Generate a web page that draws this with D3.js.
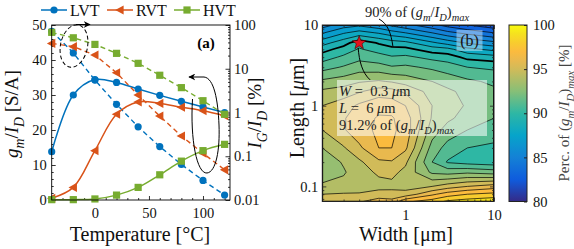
<!DOCTYPE html>
<html>
<head>
<meta charset="utf-8">
<script src="https://cdn.jsdelivr.net/npm/d3@7"></script>
<style>
  body { margin: 0; background: #fff; }
  svg { font-family: "Liberation Serif", "DejaVu Serif", serif; }
</style>
</head>
<body>
<div id="chart"></div>
<script>
// ---- panel (a) data ----
const temps = [-40, -20, 0, 20, 40, 60, 80, 100, 120];
const gmLVT = [13.8, 30.0, 34.4, 33.6, 31.7, 29.9, 28.2, 26.6, 25.0];
const gmRVT = [0.5, 3.6, 14.1, 24.5, 28.0, 27.6, 26.5, 25.5, 24.1];
const gmHVT = [0.1, 0.1, 0.3, 1.4, 3.6, 7.2, 11.1, 14.1, 15.9];
const igLVT = [72, 23, 5.5, 1.54, 0.47, 0.166, 0.065, 0.028, 0.013];
const igRVT = [38, 32, 20.6, 8.1, 2.5, 0.83, 0.29, 0.117, 0.049];
const igHVT = [68, 51, 36, 22.5, 13.3, 7.1, 3.7, 1.86, 0.91];
const tempTicks = [0, 50, 100];
const gmTicks = [0, 10, 20, 30, 40, 50];
const igTicks = [0.01, 0.1, 1, 10, 100];

// ---- panel (b) data ----
const widths = [0.115, 0.2, 0.3, 0.5, 0.7, 1, 2, 3, 5, 10];
const lengths = [10, 8, 6, 5, 4, 3, 2, 1.5, 1, 0.7, 0.5, 0.3, 0.2, 0.15, 0.1, 0.08, 0.065];
// rows = lengths (top to bottom), columns = widths
const perc = [
  [85.5, 86.5, 86.8, 86.3, 85.8, 85.3, 84.3, 83.6, 83.0, 82.3],
  [86.9, 87.9, 88.4, 87.9, 87.4, 87.0, 86.0, 85.3, 84.7, 84.0],
  [88.6, 89.6, 90.6, 89.9, 89.5, 89.3, 88.2, 87.6, 86.9, 86.3],
  [89.6, 90.4, 91.1, 90.6, 90.3, 90.3, 89.5, 89.3, 88.3, 87.7],
  [90.5, 91.2, 91.7, 91.4, 91.1, 91.2, 90.7, 90.5, 89.7, 89.4],
  [91.6, 92.1, 92.5, 92.4, 92.1, 92.2, 91.8, 91.5, 91.0, 90.8],
  [93.2, 93.5, 93.9, 94.1, 93.9, 93.6, 93.0, 92.6, 92.2, 91.8],
  [94.2, 94.5, 94.9, 95.5, 95.4, 94.8, 93.6, 93.2, 92.7, 92.2],
  [95.0, 95.5, 96.2, 96.7, 96.6, 96.0, 94.0, 93.4, 92.9, 92.3],
  [95.2, 95.9, 96.6, 97.1, 97.1, 96.5, 93.9, 93.2, 92.6, 92.0],
  [95.0, 95.9, 96.6, 97.2, 97.2, 96.6, 93.5, 92.6, 92.0, 91.5],
  [94.0, 94.9, 95.8, 97.0, 97.0, 96.2, 92.6, 91.6, 91.0, 90.8],
  [93.4, 94.1, 94.8, 95.8, 95.9, 95.2, 92.0, 90.9, 90.6, 90.4],
  [93.4, 93.9, 94.5, 95.2, 95.3, 94.7, 92.8, 92.6, 92.8, 92.5],
  [94.2, 94.3, 94.5, 94.6, 94.7, 94.6, 95.0, 95.5, 96.0, 96.5],
  [95.0, 95.1, 95.1, 95.5, 95.4, 95.4, 96.8, 97.5, 98.0, 98.3],
  [95.8, 95.8, 95.9, 96.4, 96.3, 97.8, 98.5, 99.2, 99.5, 99.8]
];
const levels = d3.range(80, 100, 1);
const widthTicks = [1, 10];
const lengthTicks = [0.1, 1, 10];
const percTicks = [80, 85, 90, 95, 100];
const best = { w: 0.3, l: 6 };

const colLVT = "#0072BD", colRVT = "#D95319", colHVT = "#77AC30";
const parula = d3.scaleLinear()
  .domain([80, 82.5, 85, 87.5, 90, 92.5, 95, 96, 97, 98, 99, 100])
  .range(["#352a87", "#0f5cdd", "#1481d6", "#06a4ca", "#2eb7a4", "#87bf77", "#d1bb59",
          "#e9b94e", "#fbbb3e", "#f8cc2e", "#f5e11f", "#f9fb0e"])
  .clamp(true);

const svg = d3.select("#chart").append("svg").attr("width", 574).attr("height", 249);

// text with italic pieces and subscripts
function rich(sel, segs, size) {
  let shift = 0;
  segs.forEach(s => {
    const ts = sel.append("tspan").text(s.t);
    if (s.i) ts.attr("font-style", "italic");
    const target = s.sub ? size * 0.3 : 0;
    if (target !== shift) { ts.attr("dy", target - shift); shift = target; }
    if (s.sub) ts.attr("font-size", size * 0.72);
  });
  return sel;
}

function minorLog(lo, hi) {
  const out = [];
  for (let e = Math.floor(Math.log10(lo)); e < Math.ceil(Math.log10(hi)); e++)
    for (let m = 2; m <= 9; m++) { const v = m * 10 ** e; if (v > lo && v < hi) out.push(v); }
  return out;
}

// ================= panel (a) =================
const A = { l: 51.7, r: 230, t: 25, b: 200 };
const x = d3.scaleLinear().domain([-40, 125]).range([A.l, A.r]);
const yL = d3.scaleLinear().domain([0, 50]).range([A.b, A.t]);
const yR = d3.scaleLog().domain([0.01, 100]).range([A.b, A.t]);

const ga = svg.append("g");

// ticks
const minorT = d3.range(-40, 126, 10).filter(v => !tempTicks.includes(v));
ga.append("g").attr("transform", `translate(0,${A.b})`)
  .call(d3.axisBottom(x).tickValues(minorT).tickSize(-2).tickFormat(""));
ga.append("g").attr("transform", `translate(0,${A.b})`)
  .call(d3.axisBottom(x).tickValues(tempTicks).tickSize(-4).tickPadding(8).tickFormat(d3.format("d")));
ga.append("g").attr("transform", `translate(${A.l},0)`)
  .call(d3.axisLeft(yL).tickValues(d3.range(0, 51, 2).filter(v => v % 10)).tickSize(-2).tickFormat(""));
ga.append("g").attr("transform", `translate(${A.l},0)`)
  .call(d3.axisLeft(yL).tickValues(gmTicks).tickSize(-4).tickPadding(5));
ga.append("g").attr("transform", `translate(${A.r},0)`)
  .call(d3.axisRight(yR).tickValues(minorLog(0.01, 100)).tickSize(-2).tickFormat(""));
ga.append("g").attr("transform", `translate(${A.r},0)`)
  .call(d3.axisRight(yR).tickValues(igTicks).tickSize(-4.5).tickPadding(4).tickFormat(d => String(d)));
ga.selectAll(".domain").remove();
ga.selectAll(".tick line").attr("stroke", "#000").attr("stroke-width", 0.8);
ga.selectAll(".tick text").attr("font-family", "Liberation Serif").attr("font-size", 14.5).attr("fill", "#111");

const solid = d3.line().curve(d3.curveCatmullRom.alpha(0.5));
const dashed = d3.line();
const series = [
  { gm: gmLVT, ig: igLVT, c: colLVT, m: "o" },
  { gm: gmRVT, ig: igRVT, c: colRVT, m: "<" },
  { gm: gmHVT, ig: igHVT, c: colHVT, m: "s" }
];
function marker(sel, type, c) {
  if (type === "o") sel.append("circle").attr("r", 3.6).attr("fill", c);
  else if (type === "<") sel.append("path").attr("d", "M-4.8,0L3.6,-4.6L3.6,4.6Z").attr("fill", c);
  else sel.append("rect").attr("x", -3.6).attr("y", -3.6).attr("width", 7.2).attr("height", 7.2).attr("fill", c);
}
svg.append("clipPath").attr("id", "clipA").append("rect")
  .attr("x", A.l - 6).attr("y", A.t - 6).attr("width", A.r - A.l + 6).attr("height", A.b - A.t + 12);
const plotA = ga.append("g").attr("clip-path", "url(#clipA)");
series.forEach(s => {
  const ptsG = temps.map((t, i) => [x(t), yL(s.gm[i])]);
  const ptsI = temps.map((t, i) => [x(t), yR(s.ig[i])]);
  plotA.append("path").attr("d", dashed(ptsI)).attr("fill", "none").attr("stroke", s.c)
    .attr("stroke-width", 1.4).attr("stroke-dasharray", "5,3.5");
  plotA.append("path").attr("d", solid(ptsG)).attr("fill", "none").attr("stroke", s.c).attr("stroke-width", 1.5);
  ptsI.concat(ptsG).forEach(p => marker(plotA.append("g").attr("transform", `translate(${p})`), s.m, s.c));
});

ga.append("rect").attr("x", A.l).attr("y", A.t).attr("width", A.r - A.l).attr("height", A.b - A.t)
  .attr("fill", "none").attr("stroke", "#000").attr("stroke-width", 0.9);

// annotation ellipses
const defs = svg.append("defs");
defs.append("marker").attr("id", "arr").attr("viewBox", "0 0 10 10").attr("refX", 9).attr("refY", 5)
  .attr("markerWidth", 7).attr("markerHeight", 7).attr("orient", "auto")
  .append("path").attr("d", "M0,0L10,5L0,10L3,5Z").attr("fill", "#000");
ga.append("ellipse").attr("cx", 74).attr("cy", 46).attr("rx", 13.5).attr("ry", 21.5)
  .attr("transform", "rotate(12,74,46)")
  .attr("fill", "none").attr("stroke", "#000").attr("stroke-width", 1).attr("stroke-dasharray", "4,2.5");
ga.append("path").attr("d", "M76,24.5 L90,24.5").attr("stroke", "#000").attr("stroke-width", 1)
  .attr("fill", "none").attr("marker-end", "url(#arr)");
ga.append("path").attr("d", "M192.5,99 C190,140 197,174 207,173 C216,172 220,150 219,125 C218,100 214,78 204,77 L189,77")
  .attr("fill", "none").attr("stroke", "#000").attr("stroke-width", 1).attr("marker-end", "url(#arr)");

ga.append("text").attr("x", 206).attr("y", 48).attr("text-anchor", "middle")
  .attr("font-size", 15).attr("font-weight", "bold").text("(a)");

// legend
const legend = [["LVT", colLVT, "o", 41], ["RVT", colRVT, "<", 107], ["HVT", colHVT, "s", 174]];
legend.forEach(([name, c, m, lx]) => {
  ga.append("line").attr("x1", lx).attr("x2", lx + 26).attr("y1", 10).attr("y2", 10)
    .attr("stroke", c).attr("stroke-width", 1.5);
  marker(ga.append("g").attr("transform", `translate(${lx + 13},10)`), m, c);
  ga.append("text").attr("x", lx + 29).attr("y", 15.5).attr("font-size", 16).attr("fill", "#111").text(name);
});

// axis titles
ga.append("text").attr("x", 140).attr("y", 241).attr("text-anchor", "middle").attr("font-size", 20)
  .attr("fill", "#111").text("Temperature [°C]");
rich(ga.append("text").attr("transform", "translate(18,114) rotate(-90)").attr("text-anchor", "middle")
  .attr("font-size", 19).attr("fill", "#111"),
  [{ t: "g", i: 1 }, { t: "m", i: 1, sub: 1 }, { t: "/" }, { t: "I", i: 1 }, { t: "D", i: 1, sub: 1 }, { t: " [S/A]" }], 19);
rich(ga.append("text").attr("transform", "translate(261,113) rotate(-90)").attr("text-anchor", "middle")
  .attr("font-size", 19).attr("fill", "#111"),
  [{ t: "I", i: 1 }, { t: "G", i: 1, sub: 1 }, { t: "/" }, { t: "I", i: 1 }, { t: "D", i: 1, sub: 1 }, { t: " [%]" }], 19);

// ================= panel (b) =================
const B = { l: 322.3, r: 494, t: 25, b: 201.5 };
const xW = d3.scaleLog().domain([0.115, 10]).range([B.l, B.r]);
const yLn = d3.scaleLog().domain([0.065, 10]).range([B.b, B.t]);
const gb = svg.append("g");
svg.append("clipPath").attr("id", "clipB").append("rect")
  .attr("x", B.l).attr("y", B.t).attr("width", B.r - B.l).attr("height", B.b - B.t);

const lw = widths.map(Math.log10), ll = lengths.map(Math.log10);
function interp(arr, p) {
  p = Math.max(0, Math.min(arr.length - 1, p));
  const i = Math.min(arr.length - 2, Math.floor(p)), t = p - i;
  return arr[i] * (1 - t) + arr[i + 1] * t;
}
const proj = d3.geoTransform({
  point(px, py) { this.stream.point(xW(10 ** interp(lw, px - 0.5)), yLn(10 ** interp(ll, py - 0.5))); }
});
const gpath = d3.geoPath(proj);
const cons = d3.contours().size([widths.length, lengths.length]).thresholds(levels)(perc.flat());
const cg = gb.append("g").attr("clip-path", "url(#clipB)");
cg.selectAll("path.fill").data(cons).join("path").attr("class", "fill")
  .attr("d", gpath).attr("fill", d => parula(d.value)).attr("stroke", "none");
cg.selectAll("path.iso").data(cons.filter(d => d.value > 80)).join("path").attr("class", "iso")
  .attr("d", gpath).attr("fill", "none").attr("stroke", "#000")
  .attr("stroke-width", d => d.value === 90 ? 1.7 : 0.7);

// label box and (b) tag
gb.append("rect").attr("x", 337).attr("y", 80).attr("width", 150).attr("height", 56)
  .attr("fill", "#fff").attr("fill-opacity", 0.55);
gb.append("rect").attr("x", 456.5).attr("y", 30).attr("width", 26).attr("height", 21)
  .attr("fill", "#dff0ff").attr("fill-opacity", 0.45);
gb.append("text").attr("x", 469.5).attr("y", 46).attr("text-anchor", "middle").attr("font-size", 16)
  .attr("fill", "#111").text("(b)");
const tb = 14.5;
rich(gb.append("text").attr("x", 339).attr("y", 96).attr("font-size", tb).attr("fill", "#222").attr("xml:space", "preserve"),
  [{ t: "W", i: 1 }, { t: " =  0.3 " }, { t: "μ", i: 1 }, { t: "m" }], tb);
rich(gb.append("text").attr("x", 339).attr("y", 113).attr("font-size", tb).attr("fill", "#222").attr("xml:space", "preserve"),
  [{ t: "L", i: 1 }, { t: " =  6 " }, { t: "μ", i: 1 }, { t: "m" }], tb);
rich(gb.append("text").attr("x", 339).attr("y", 130).attr("font-size", tb).attr("fill", "#222"),
  [{ t: "91.2% of (" }, { t: "g", i: 1 }, { t: "m", i: 1, sub: 1 }, { t: "/" }, { t: "I", i: 1 },
   { t: "D", i: 1, sub: 1 }, { t: ")" }, { t: "max", i: 1, sub: 1 }], tb);

// star + leader lines
const sx = xW(best.w), sy = yLn(best.l);
const star = d3.range(10).map(k => {
  const r = k % 2 ? 3 : 7.2, a = -Math.PI / 2 + k * Math.PI / 5;
  return [sx + r * Math.cos(a), sy + r * Math.sin(a)];
});
gb.append("path").attr("d", `M${sx - 1},${sy + 5} C${sx},${sy + 18} ${sx + 3},${sy + 30} ${sx + 11},${sy + 37}`)
  .attr("fill", "none").attr("stroke", "#000").attr("stroke-width", 1);
gb.append("path").attr("d", "M379,19 C388,24 391,33 393,47")
  .attr("fill", "none").attr("stroke", "#000").attr("stroke-width", 1);
gb.append("path").attr("d", "M" + star.join("L") + "Z").attr("fill", "#e0141e").attr("stroke", "#400").attr("stroke-width", 0.6);

rich(gb.append("text").attr("x", 417).attr("y", 17).attr("text-anchor", "middle").attr("font-size", tb).attr("fill", "#222"),
  [{ t: "90% of (" }, { t: "g", i: 1 }, { t: "m", i: 1, sub: 1 }, { t: "/" }, { t: "I", i: 1 },
   { t: "D", i: 1, sub: 1 }, { t: ")" }, { t: "max", i: 1, sub: 1 }], tb);

// axes for panel b
const minW = minorLog(0.115, 10), minL = minorLog(0.065, 10);
[[d3.axisBottom(xW).tickValues(minW).tickSize(-2).tickFormat(""), `translate(0,${B.b})`],
 [d3.axisBottom(xW).tickValues(widthTicks).tickSize(-4).tickPadding(8).tickFormat(d3.format("d")), `translate(0,${B.b})`],
 [d3.axisTop(xW).tickValues(minW).tickSize(-2).tickFormat(""), `translate(0,${B.t})`],
 [d3.axisTop(xW).tickValues(widthTicks).tickSize(-4).tickFormat(""), `translate(0,${B.t})`],
 [d3.axisLeft(yLn).tickValues(minL).tickSize(-2).tickFormat(""), `translate(${B.l},0)`],
 [d3.axisLeft(yLn).tickValues(lengthTicks).tickSize(-4).tickPadding(4).tickFormat(d => String(d)), `translate(${B.l},0)`],
 [d3.axisRight(yLn).tickValues(minL).tickSize(-2).tickFormat(""), `translate(${B.r},0)`],
 [d3.axisRight(yLn).tickValues(lengthTicks).tickSize(-4).tickFormat(""), `translate(${B.r},0)`]
].forEach(([axis, tr]) => gb.append("g").attr("transform", tr).call(axis));
gb.selectAll(".domain").remove();
gb.selectAll(".tick line").attr("stroke", "#222").attr("stroke-width", 0.8);
gb.selectAll(".tick text").attr("font-family", "Liberation Serif").attr("font-size", 14.5).attr("fill", "#111");
gb.append("rect").attr("x", B.l).attr("y", B.t).attr("width", B.r - B.l).attr("height", B.b - B.t)
  .attr("fill", "none").attr("stroke", "#222").attr("stroke-width", 1);

gb.append("text").attr("x", 406).attr("y", 241).attr("text-anchor", "middle").attr("font-size", 20)
  .attr("fill", "#111").text("Width [μm]");
rich(gb.append("text").attr("transform", "translate(304,108) rotate(-90)").attr("text-anchor", "middle")
  .attr("font-size", 20).attr("fill", "#111"),
  [{ t: "Length [" }, { t: "μ", i: 1 }, { t: "m]" }], 20);

// colorbar
const C = { l: 509, r: 527 };
const yC = d3.scaleLinear().domain([80, 100]).range([B.b, B.t]);
const grad = defs.append("linearGradient").attr("id", "cbar").attr("x1", 0).attr("x2", 0).attr("y1", 1).attr("y2", 0);
d3.range(0, 41).forEach(k => grad.append("stop").attr("offset", k / 40).attr("stop-color", parula(80 + k / 2)));
gb.append("rect").attr("x", C.l).attr("y", B.t).attr("width", C.r - C.l).attr("height", B.b - B.t)
  .attr("fill", "url(#cbar)");
gb.append("g").attr("transform", `translate(${C.r},0)`)
  .call(d3.axisRight(yC).tickValues(percTicks).tickSize(-3).tickPadding(6))
  .call(g => g.select(".domain").remove())
  .call(g => g.selectAll(".tick line").attr("stroke", "#222"))
  .call(g => g.selectAll(".tick text").attr("font-family", "Liberation Serif").attr("font-size", 14.5).attr("fill", "#111"));
gb.append("rect").attr("x", C.l).attr("y", B.t).attr("width", C.r - C.l).attr("height", B.b - B.t)
  .attr("fill", "none").attr("stroke", "#222").attr("stroke-width", 1);
rich(gb.append("text").attr("transform", "translate(569,113) rotate(-90)").attr("text-anchor", "middle")
  .attr("font-size", 15).attr("fill", "#444"),
  [{ t: "Perc. of (" }, { t: "g", i: 1 }, { t: "m", i: 1, sub: 1 }, { t: "/" }, { t: "I", i: 1 },
   { t: "D", i: 1, sub: 1 }, { t: ")" }, { t: "max", i: 1, sub: 1 }, { t: " [%]" }], 15);
</script>
</body>
</html>
